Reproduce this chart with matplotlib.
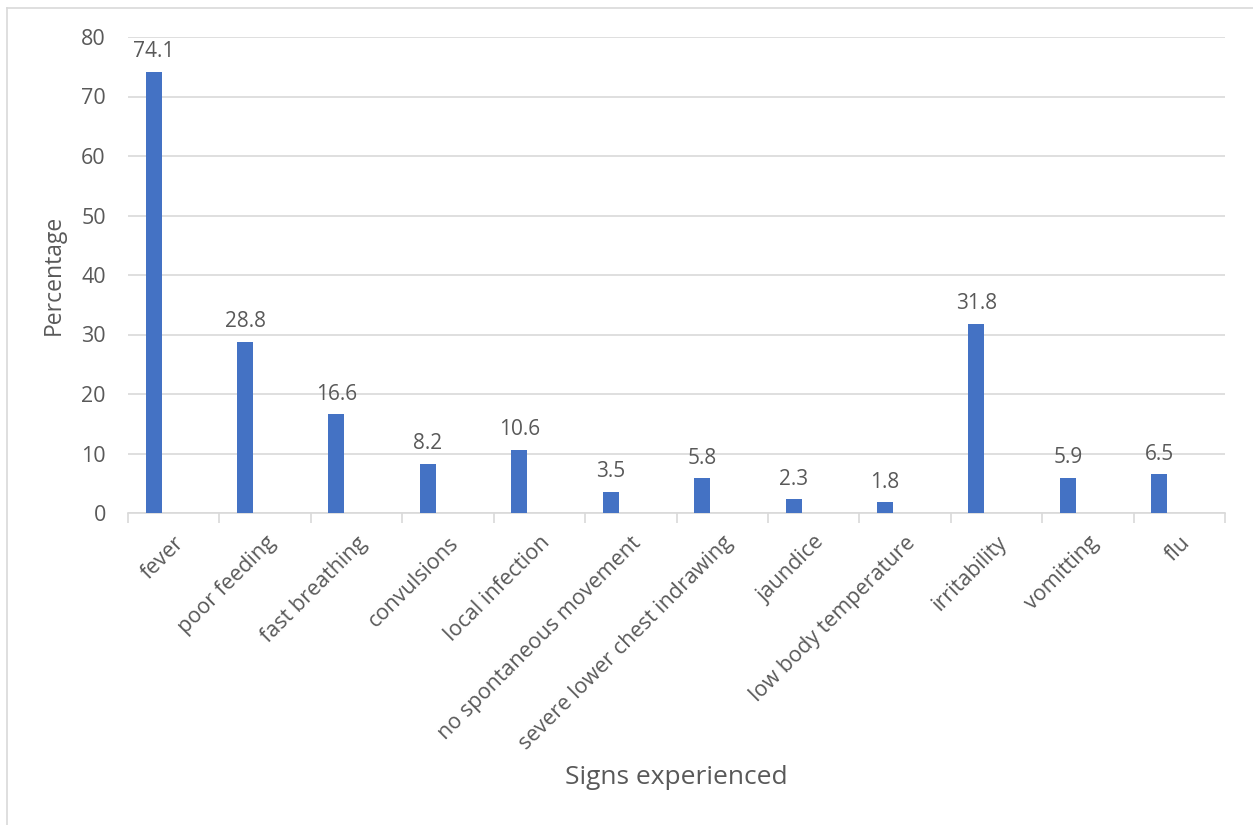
import matplotlib.pyplot as plt
from matplotlib.lines import Line2D
import numpy as np

signs = ["fever", "poor feeding", "fast breathing", "convulsions", "local infection",
         "no spontaneous movement", "severe lower chest indrawing", "jaundice",
         "low body temperature", "irritability", "vomitting", "flu"]
percentages = [74.1, 28.8, 16.6, 8.2, 10.6, 3.5, 5.8, 2.3, 1.8, 31.8, 5.9, 6.5]
y_ticks = [0, 10, 20, 30, 40, 50, 60, 70, 80]

BAR = "#4472C4"
TEXT = "#595959"
GRID = "#D9D9D9"
BAR_SHIFT = -0.22  # bar sits left of the category centre

plt.rcParams["font.family"] = ["Open Sans", "DejaVu Sans"]

W, H = 1253, 825
fig = plt.figure(figsize=(W / 100, H / 100), dpi=100)
ax = fig.add_axes([128 / W, 1 - 513 / H, (1225 - 128) / W, (513 - 37) / H])

x = np.arange(len(signs))
ax.bar(x + BAR_SHIFT, percentages, width=0.175, color=BAR, zorder=3)
for xi, v in zip(x, percentages):
    ax.annotate(f"{v}", (xi + BAR_SHIFT, v), xytext=(0, 7), textcoords="offset points",
                ha="center", va="bottom", fontsize=15, color=TEXT)

ax.set_xlim(-0.5, len(signs) - 0.5)
ax.set_ylim(0, 80)
ax.set_yticks(y_ticks)
ax.yaxis.grid(True, color=GRID, linewidth=1.2, zorder=0)
ax.tick_params(axis="y", length=0, labelsize=15.5, labelcolor=TEXT, pad=16)

# category labels at centres, tick marks at category boundaries
ax.set_xticks(x)
ax.set_xticklabels(signs, rotation=45, ha="right", rotation_mode="anchor",
                   fontsize=15.5, color=TEXT)
ax.tick_params(axis="x", which="major", length=0, pad=14)
ax.set_xticks(np.arange(-0.5, len(signs), 1.0), minor=True)
ax.tick_params(axis="x", which="minor", length=7, color=GRID, width=1.2)

for s in ["top", "right", "left"]:
    ax.spines[s].set_visible(False)
ax.spines["bottom"].set_color(GRID)
ax.spines["bottom"].set_linewidth(1.2)

ax.set_ylabel("Percentage", fontsize=16.5, color=TEXT)
ax.yaxis.set_label_coords((66 - 128) / (1225 - 128), 0.5)
fig.text(676 / W, 1 - 778 / H, "Signs experienced", ha="center", va="center",
         fontsize=19, color=TEXT)

# chart area frame: top and left edges
fig.add_artist(Line2D([7 / W, 1], [1 - 7.5 / H, 1 - 7.5 / H], transform=fig.transFigure,
                      color=GRID, linewidth=1.2))
fig.add_artist(Line2D([7 / W, 7 / W], [0, 1 - 7.5 / H], transform=fig.transFigure,
                      color=GRID, linewidth=1.2))

fig.savefig("out.png", dpi=100)
